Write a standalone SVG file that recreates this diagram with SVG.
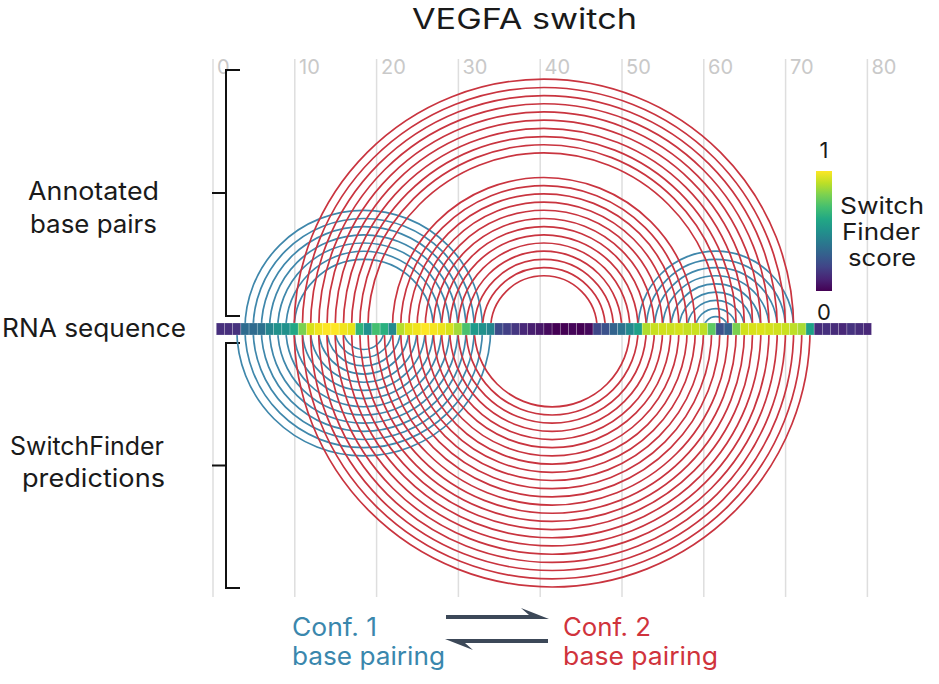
<svg xmlns="http://www.w3.org/2000/svg" width="939" height="684" viewBox="0 0 939 684">
<defs>
<linearGradient id="viridis" x1="0" y1="1" x2="0" y2="0">
<stop offset="0" stop-color="#440154"/><stop offset="0.1" stop-color="#482475"/><stop offset="0.2" stop-color="#414487"/><stop offset="0.3" stop-color="#355f8d"/><stop offset="0.4" stop-color="#2a788e"/><stop offset="0.5" stop-color="#21918c"/><stop offset="0.6" stop-color="#22a884"/><stop offset="0.7" stop-color="#44bf70"/><stop offset="0.8" stop-color="#7ad151"/><stop offset="0.9" stop-color="#bddf26"/><stop offset="1" stop-color="#fde725"/>
</linearGradient>
<style>
text{font-family:Inter,"Liberation Sans",sans-serif;}
.grid{stroke:#dedede;stroke-width:1.5;fill:none}
.axis{fill:#c9c9c9;font-size:20px}
.lab{fill:#1a1a1a;font-size:25px}
.bar{fill:#1a1a1a;font-size:23px}
.red{stroke:#c9343f;stroke-width:1.7;fill:none}
.blue{stroke:#3f87ab;stroke-width:1.7;fill:none}
.cell{stroke:#ffffff;stroke-opacity:0.35;stroke-width:0.6}
.brk{stroke:#111;stroke-width:2;fill:none}
.arr{fill:#3c4858}
</style>
</defs>
<rect width="939" height="684" fill="#ffffff"/>

<g id="grid">
<line class="grid" x1="213" y1="59" x2="213" y2="597"/>
<line class="grid" x1="294.8" y1="59" x2="294.8" y2="597"/>
<line class="grid" x1="376.6" y1="59" x2="376.6" y2="597"/>
<line class="grid" x1="458.4" y1="59" x2="458.4" y2="597"/>
<line class="grid" x1="540.2" y1="59" x2="540.2" y2="597"/>
<line class="grid" x1="622" y1="59" x2="622" y2="597"/>
<line class="grid" x1="703.8" y1="59" x2="703.8" y2="597"/>
<line class="grid" x1="785.6" y1="59" x2="785.6" y2="597"/>
<line class="grid" x1="867.4" y1="59" x2="867.4" y2="597"/>
</g>
<g id="axis-labels">
<text class="axis" x="217" y="74">0</text>
<text class="axis" x="299" y="74">10</text>
<text class="axis" x="381" y="74">20</text>
<text class="axis" x="462.5" y="74">30</text>
<text class="axis" x="544.5" y="74">40</text>
<text class="axis" x="626" y="74">50</text>
<text class="axis" x="708" y="74">60</text>
<text class="axis" x="790" y="74">70</text>
<text class="axis" x="871.5" y="74">80</text>
</g>

<g id="title"><text x="412" y="29" font-size="28" fill="#1a1a1a" textLength="225" lengthAdjust="spacingAndGlyphs">VEGFA switch</text></g>

<g id="brackets">
<path class="brk" d="M240 70 H226 V316 H240 M226 193 H212"/>
<path class="brk" d="M240 343 H226 V588 H240 M226 465.5 H212"/>
</g>
<g id="row-labels">
<text class="lab" x="28" y="200" textLength="131" lengthAdjust="spacingAndGlyphs">Annotated</text>
<text class="lab" x="30" y="233" textLength="127" lengthAdjust="spacingAndGlyphs">base pairs</text>
<text class="lab" x="2" y="337" textLength="184" lengthAdjust="spacingAndGlyphs">RNA sequence</text>
<text class="lab" x="10" y="455" textLength="154" lengthAdjust="spacingAndGlyphs">SwitchFinder</text>
<text class="lab" x="22" y="487" textLength="143" lengthAdjust="spacingAndGlyphs">predictions</text>
</g>

<g id="connectors">
<g id="annotated-conf1">
<path class="blue" d="M244.96 329 A118.7 118.7 0 0 1 482.47 329"/>
<path class="blue" d="M253.15 329 A110.5 110.5 0 0 1 474.28 329"/>
<path class="blue" d="M261.34 329 A102.3 102.3 0 0 1 466.09 329"/>
<path class="blue" d="M269.53 329 A94.1 94.1 0 0 1 457.90 329"/>
<path class="blue" d="M277.72 329 A85.9 85.9 0 0 1 449.71 329"/>
<path class="blue" d="M285.91 329 A77.8 77.8 0 0 1 441.52 329"/>
<path class="blue" d="M294.10 329 A69.6 69.6 0 0 1 433.33 329"/>
<path class="blue" d="M638.08 329 A77.8 77.8 0 0 1 793.69 329"/>
<path class="blue" d="M646.27 329 A69.6 69.6 0 0 1 785.50 329"/>
<path class="blue" d="M654.46 329 A61.4 61.4 0 0 1 777.31 329"/>
<path class="blue" d="M662.65 329 A53.2 53.2 0 0 1 769.12 329"/>
<path class="blue" d="M670.84 329 A45 45 0 0 1 760.93 329"/>
<path class="blue" d="M679.03 329 A36.8 36.8 0 0 1 752.74 329"/>
<path class="blue" d="M687.22 329 A28.6 28.6 0 0 1 744.55 329"/>
<path class="blue" d="M695.41 329 A20.4 20.4 0 0 1 736.36 329"/>
<path class="blue" d="M703.60 329 A12.2 12.2 0 0 1 728.17 329"/>
</g>
<g id="annotated-conf2">
<path class="red" d="M294.10 329 A249.7 249.7 0 0 1 793.69 329"/>
<path class="red" d="M302.29 329 A241.6 241.6 0 0 1 785.50 329"/>
<path class="red" d="M310.48 329 A233.4 233.4 0 0 1 777.31 329"/>
<path class="red" d="M318.67 329 A225.2 225.2 0 0 1 769.12 329"/>
<path class="red" d="M326.86 329 A217 217 0 0 1 760.93 329"/>
<path class="red" d="M335.05 329 A208.8 208.8 0 0 1 752.74 329"/>
<path class="red" d="M343.24 329 A200.6 200.6 0 0 1 744.55 329"/>
<path class="red" d="M351.43 329 A192.4 192.4 0 0 1 736.36 329"/>
<path class="red" d="M359.62 329 A184.2 184.2 0 0 1 728.17 329"/>
<path class="red" d="M367.81 329 A176 176 0 0 1 719.98 329"/>
<path class="red" d="M392.38 329 A151.5 151.5 0 0 1 695.41 329"/>
<path class="red" d="M400.57 329 A143.3 143.3 0 0 1 687.22 329"/>
<path class="red" d="M408.76 329 A135.1 135.1 0 0 1 679.03 329"/>
<path class="red" d="M416.95 329 A126.9 126.9 0 0 1 670.84 329"/>
<path class="red" d="M425.14 329 A118.7 118.7 0 0 1 662.65 329"/>
<path class="red" d="M433.33 329 A110.5 110.5 0 0 1 654.46 329"/>
<path class="red" d="M441.52 329 A102.3 102.3 0 0 1 646.27 329"/>
<path class="red" d="M449.71 329 A94.1 94.1 0 0 1 638.08 329"/>
<path class="red" d="M457.90 329 A85.9 85.9 0 0 1 629.89 329"/>
<path class="red" d="M466.09 329 A77.8 77.8 0 0 1 621.70 329"/>
<path class="red" d="M474.28 329 A69.6 69.6 0 0 1 613.51 329"/>
<path class="red" d="M482.47 329 A61.4 61.4 0 0 1 605.32 329"/>
<path class="red" d="M490.66 329 A53.2 53.2 0 0 1 597.13 329"/>
</g>
<g id="predicted-conf1">
<path class="blue" d="M236.77 329 A126.9 126.9 0 0 0 490.66 329"/>
<path class="blue" d="M244.96 329 A118.7 118.7 0 0 0 482.47 329"/>
<path class="blue" d="M253.15 329 A110.5 110.5 0 0 0 474.28 329"/>
<path class="blue" d="M261.34 329 A102.3 102.3 0 0 0 466.09 329"/>
<path class="blue" d="M269.53 329 A94.1 94.1 0 0 0 457.90 329"/>
<path class="blue" d="M277.72 329 A85.9 85.9 0 0 0 449.71 329"/>
<path class="blue" d="M285.91 329 A77.8 77.8 0 0 0 441.52 329"/>
<path class="blue" d="M294.10 329 A69.6 69.6 0 0 0 433.33 329"/>
<path class="blue" d="M302.29 329 A61.4 61.4 0 0 0 425.14 329"/>
<path class="blue" d="M310.48 329 A53.2 53.2 0 0 0 416.95 329"/>
<path class="blue" d="M318.67 329 A45 45 0 0 0 408.76 329"/>
<path class="blue" d="M326.86 329 A36.8 36.8 0 0 0 400.57 329"/>
<path class="blue" d="M335.05 329 A28.6 28.6 0 0 0 392.38 329"/>
<path class="blue" d="M343.24 329 A20.4 20.4 0 0 0 384.19 329"/>
</g>
<g id="predicted-conf2">
<path class="red" d="M294.10 329 A257.9 257.9 0 0 0 810.07 329"/>
<path class="red" d="M302.29 329 A249.7 249.7 0 0 0 801.88 329"/>
<path class="red" d="M310.48 329 A241.6 241.6 0 0 0 793.69 329"/>
<path class="red" d="M318.67 329 A233.4 233.4 0 0 0 785.50 329"/>
<path class="red" d="M326.86 329 A225.2 225.2 0 0 0 777.31 329"/>
<path class="red" d="M335.05 329 A217 217 0 0 0 769.12 329"/>
<path class="red" d="M343.24 329 A208.8 208.8 0 0 0 760.93 329"/>
<path class="red" d="M351.43 329 A200.6 200.6 0 0 0 752.74 329"/>
<path class="red" d="M359.62 329 A192.4 192.4 0 0 0 744.55 329"/>
<path class="red" d="M367.81 329 A184.2 184.2 0 0 0 736.36 329"/>
<path class="red" d="M376.00 329 A176 176 0 0 0 728.17 329"/>
<path class="red" d="M384.19 329 A167.8 167.8 0 0 0 719.98 329"/>
<path class="red" d="M392.38 329 A159.7 159.7 0 0 0 711.79 329"/>
<path class="red" d="M400.57 329 A151.5 151.5 0 0 0 703.60 329"/>
<path class="red" d="M408.76 329 A143.3 143.3 0 0 0 695.41 329"/>
<path class="red" d="M416.95 329 A135.1 135.1 0 0 0 687.22 329"/>
<path class="red" d="M425.14 329 A126.9 126.9 0 0 0 679.03 329"/>
<path class="red" d="M433.33 329 A118.7 118.7 0 0 0 670.84 329"/>
<path class="red" d="M441.52 329 A110.5 110.5 0 0 0 662.65 329"/>
<path class="red" d="M449.71 329 A102.3 102.3 0 0 0 654.46 329"/>
<path class="red" d="M457.90 329 A94.1 94.1 0 0 0 646.27 329"/>
<path class="red" d="M466.09 329 A85.9 85.9 0 0 0 638.08 329"/>
<path class="red" d="M474.28 329 A77.8 77.8 0 0 0 629.89 329"/>
</g>
</g>

<g id="sequence">
<rect class="cell" x="216.30" y="323" width="8.19" height="12" fill="#472f7d"/>
<rect class="cell" x="224.49" y="323" width="8.19" height="12" fill="#472f7d"/>
<rect class="cell" x="232.68" y="323" width="8.19" height="12" fill="#46327e"/>
<rect class="cell" x="240.87" y="323" width="8.19" height="12" fill="#2f6b8e"/>
<rect class="cell" x="249.06" y="323" width="8.19" height="12" fill="#2f6b8e"/>
<rect class="cell" x="257.25" y="323" width="8.19" height="12" fill="#2c718e"/>
<rect class="cell" x="265.44" y="323" width="8.19" height="12" fill="#25858e"/>
<rect class="cell" x="273.63" y="323" width="8.19" height="12" fill="#21918c"/>
<rect class="cell" x="281.82" y="323" width="8.19" height="12" fill="#21918c"/>
<rect class="cell" x="290.01" y="323" width="8.19" height="12" fill="#22a785"/>
<rect class="cell" x="298.20" y="323" width="8.19" height="12" fill="#7ad151"/>
<rect class="cell" x="306.39" y="323" width="8.19" height="12" fill="#d8e219"/>
<rect class="cell" x="314.58" y="323" width="8.19" height="12" fill="#f1e51d"/>
<rect class="cell" x="322.77" y="323" width="8.19" height="12" fill="#fde725"/>
<rect class="cell" x="330.96" y="323" width="8.19" height="12" fill="#fde725"/>
<rect class="cell" x="339.15" y="323" width="8.19" height="12" fill="#f1e51d"/>
<rect class="cell" x="347.34" y="323" width="8.19" height="12" fill="#e5e419"/>
<rect class="cell" x="355.53" y="323" width="8.19" height="12" fill="#2eb37c"/>
<rect class="cell" x="363.72" y="323" width="8.19" height="12" fill="#21918c"/>
<rect class="cell" x="371.91" y="323" width="8.19" height="12" fill="#44bf70"/>
<rect class="cell" x="380.10" y="323" width="8.19" height="12" fill="#2ab07f"/>
<rect class="cell" x="388.29" y="323" width="8.19" height="12" fill="#23898e"/>
<rect class="cell" x="396.48" y="323" width="8.19" height="12" fill="#b5de2b"/>
<rect class="cell" x="404.67" y="323" width="8.19" height="12" fill="#e2e418"/>
<rect class="cell" x="412.86" y="323" width="8.19" height="12" fill="#f1e51d"/>
<rect class="cell" x="421.05" y="323" width="8.19" height="12" fill="#fde725"/>
<rect class="cell" x="429.24" y="323" width="8.19" height="12" fill="#f6e620"/>
<rect class="cell" x="437.43" y="323" width="8.19" height="12" fill="#ece51b"/>
<rect class="cell" x="445.62" y="323" width="8.19" height="12" fill="#d8e219"/>
<rect class="cell" x="453.81" y="323" width="8.19" height="12" fill="#a2da37"/>
<rect class="cell" x="462.00" y="323" width="8.19" height="12" fill="#4ac16d"/>
<rect class="cell" x="470.19" y="323" width="8.19" height="12" fill="#1f9a8a"/>
<rect class="cell" x="478.38" y="323" width="8.19" height="12" fill="#21918c"/>
<rect class="cell" x="486.57" y="323" width="8.19" height="12" fill="#25858e"/>
<rect class="cell" x="494.76" y="323" width="8.19" height="12" fill="#3e4a89"/>
<rect class="cell" x="502.95" y="323" width="8.19" height="12" fill="#424086"/>
<rect class="cell" x="511.14" y="323" width="8.19" height="12" fill="#453781"/>
<rect class="cell" x="519.33" y="323" width="8.19" height="12" fill="#482878"/>
<rect class="cell" x="527.52" y="323" width="8.19" height="12" fill="#481f70"/>
<rect class="cell" x="535.71" y="323" width="8.19" height="12" fill="#48186a"/>
<rect class="cell" x="543.90" y="323" width="8.19" height="12" fill="#460b5e"/>
<rect class="cell" x="552.09" y="323" width="8.19" height="12" fill="#440154"/>
<rect class="cell" x="560.28" y="323" width="8.19" height="12" fill="#440154"/>
<rect class="cell" x="568.47" y="323" width="8.19" height="12" fill="#450559"/>
<rect class="cell" x="576.66" y="323" width="8.19" height="12" fill="#440154"/>
<rect class="cell" x="584.85" y="323" width="8.19" height="12" fill="#46085c"/>
<rect class="cell" x="593.04" y="323" width="8.19" height="12" fill="#3f4788"/>
<rect class="cell" x="601.23" y="323" width="8.19" height="12" fill="#3b518b"/>
<rect class="cell" x="609.42" y="323" width="8.19" height="12" fill="#33638d"/>
<rect class="cell" x="617.61" y="323" width="8.19" height="12" fill="#2c728e"/>
<rect class="cell" x="625.80" y="323" width="8.19" height="12" fill="#23898e"/>
<rect class="cell" x="633.99" y="323" width="8.19" height="12" fill="#1fa088"/>
<rect class="cell" x="642.18" y="323" width="8.19" height="12" fill="#b0dd2f"/>
<rect class="cell" x="650.37" y="323" width="8.19" height="12" fill="#c8e020"/>
<rect class="cell" x="658.56" y="323" width="8.19" height="12" fill="#d0e11c"/>
<rect class="cell" x="666.75" y="323" width="8.19" height="12" fill="#cde11d"/>
<rect class="cell" x="674.94" y="323" width="8.19" height="12" fill="#d5e21a"/>
<rect class="cell" x="683.13" y="323" width="8.19" height="12" fill="#c5e021"/>
<rect class="cell" x="691.32" y="323" width="8.19" height="12" fill="#cae11f"/>
<rect class="cell" x="699.51" y="323" width="8.19" height="12" fill="#bddf26"/>
<rect class="cell" x="707.70" y="323" width="8.19" height="12" fill="#5ec962"/>
<rect class="cell" x="715.89" y="323" width="8.19" height="12" fill="#3b528b"/>
<rect class="cell" x="724.08" y="323" width="8.19" height="12" fill="#34608d"/>
<rect class="cell" x="732.27" y="323" width="8.19" height="12" fill="#7ad151"/>
<rect class="cell" x="740.46" y="323" width="8.19" height="12" fill="#d0e11c"/>
<rect class="cell" x="748.65" y="323" width="8.19" height="12" fill="#d8e219"/>
<rect class="cell" x="756.84" y="323" width="8.19" height="12" fill="#dde318"/>
<rect class="cell" x="765.03" y="323" width="8.19" height="12" fill="#d5e21a"/>
<rect class="cell" x="773.22" y="323" width="8.19" height="12" fill="#d0e11c"/>
<rect class="cell" x="781.41" y="323" width="8.19" height="12" fill="#cae11f"/>
<rect class="cell" x="789.60" y="323" width="8.19" height="12" fill="#bddf26"/>
<rect class="cell" x="797.79" y="323" width="8.19" height="12" fill="#a8db34"/>
<rect class="cell" x="805.98" y="323" width="8.19" height="12" fill="#1fa187"/>
<rect class="cell" x="814.17" y="323" width="8.19" height="12" fill="#472d7b"/>
<rect class="cell" x="822.36" y="323" width="8.19" height="12" fill="#46307e"/>
<rect class="cell" x="830.55" y="323" width="8.19" height="12" fill="#472c7a"/>
<rect class="cell" x="838.74" y="323" width="8.19" height="12" fill="#482878"/>
<rect class="cell" x="846.93" y="323" width="8.19" height="12" fill="#46337f"/>
<rect class="cell" x="855.12" y="323" width="8.19" height="12" fill="#472d7b"/>
<rect class="cell" x="863.31" y="323" width="8.19" height="12" fill="#482878"/>
</g>

<g id="colorbar">
<rect x="816" y="171" width="16" height="120" fill="url(#viridis)"/>
<text x="824" y="158" font-size="22" fill="#1a1a1a" text-anchor="middle">1</text>
<text x="824" y="320" font-size="22" fill="#1a1a1a" text-anchor="middle">0</text>
<text class="bar" x="882" y="214" text-anchor="middle" textLength="84" lengthAdjust="spacingAndGlyphs">Switch</text>
<text class="bar" x="881" y="240" text-anchor="middle" textLength="78" lengthAdjust="spacingAndGlyphs">Finder</text>
<text class="bar" x="882" y="266" text-anchor="middle" textLength="68" lengthAdjust="spacingAndGlyphs">score</text>
</g>

<g id="legend-conf1">
<text class="lab" x="292" y="636" fill="#3a87ad" style="fill:#3a87ad" textLength="85" lengthAdjust="spacingAndGlyphs">Conf. 1</text>
<text class="lab" x="292" y="665" style="fill:#3a87ad" textLength="153" lengthAdjust="spacingAndGlyphs">base pairing</text>
</g>
<g id="legend-conf2">
<text class="lab" x="563" y="636" style="fill:#d0333c" textLength="88" lengthAdjust="spacingAndGlyphs">Conf. 2</text>
<text class="lab" x="563" y="665" style="fill:#d0333c" textLength="155" lengthAdjust="spacingAndGlyphs">base pairing</text>
</g>
<g id="equilibrium-arrows">
<path class="arr" d="M446 615 H529 L521 608 L549 619 H446 Z"/>
<path class="arr" d="M548 643 H465 L473 650 L445 639 H548 Z"/>
</g>
</svg>
